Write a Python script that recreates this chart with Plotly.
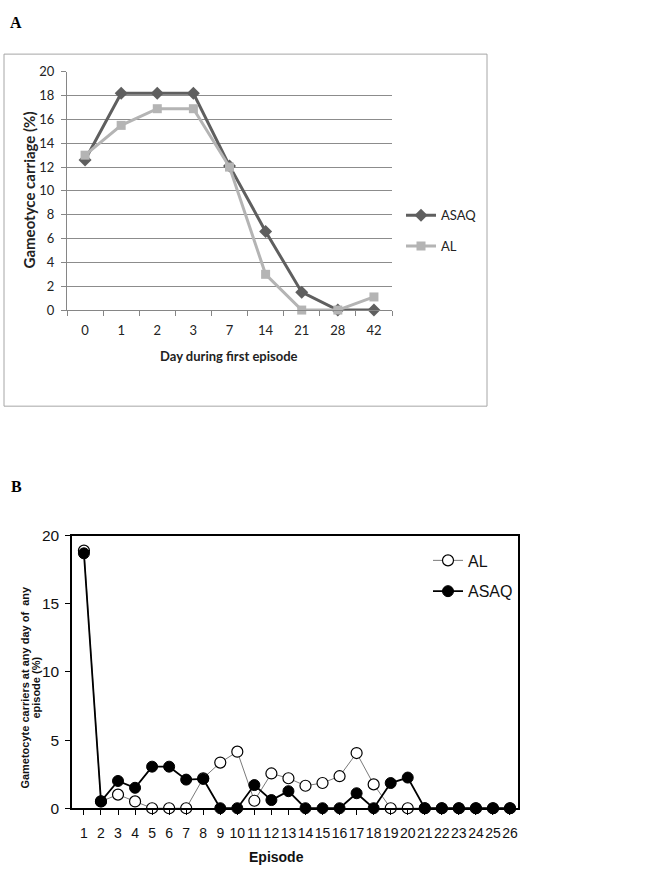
import plotly.graph_objects as go

# ---------- Panel A data ----------
days = ["0", "1", "2", "3", "7", "14", "21", "28", "42"]
asaq_a = [12.6, 18.2, 18.2, 18.2, 12.1, 6.6, 1.5, 0.0, 0.0]
al_a = [13.0, 15.5, 16.9, 16.9, 12.0, 3.0, 0.0, 0.0, 1.1]
y_ticks_a = [0, 2, 4, 6, 8, 10, 12, 14, 16, 18, 20]

# ---------- Panel B data ----------
episodes = list(range(1, 27))
al_b = [18.9, 0.5, 1.0, 0.5, 0.0, 0.0, 0.0, 2.2, 3.35, 4.15, 0.55, 2.55, 2.2, 1.65,
        1.85, 2.35, 4.05, 1.75, 0.0, 0.0, 0.0, 0.0, 0.0, 0.0, 0.0, 0.0]
asaq_b = [18.7, 0.5, 2.0, 1.5, 3.05, 3.05, 2.1, 2.15, 0.0, 0.0, 1.7, 0.6, 1.25, 0.0,
          0.0, 0.0, 1.1, 0.0, 1.85, 2.25, 0.0, 0.0, 0.0, 0.0, 0.0, 0.0]
y_ticks_b = [0, 5, 10, 15, 20]

W, H = 649, 879
def px(x):
    return x / W
def py(y):
    return 1 - y / H

fig = go.Figure()

# Panel A traces
fig.add_trace(go.Scatter(
    x=days, y=asaq_a, name="ASAQ", mode="lines+markers",
    line=dict(color="#5f5f5f", width=3),
    marker=dict(symbol="diamond", size=10, color="#5f5f5f"),
    xaxis="x", yaxis="y", legend="legend", legendgroup="a1", cliponaxis=False))
fig.add_trace(go.Scatter(
    x=days, y=al_a, name="AL", mode="lines+markers",
    line=dict(color="#b4b4b4", width=3),
    marker=dict(symbol="square", size=9, color="#b4b4b4"),
    xaxis="x", yaxis="y", legend="legend", legendgroup="a2", cliponaxis=False))

# Panel B traces
fig.add_trace(go.Scatter(
    x=episodes, y=al_b, name="AL", mode="lines+markers",
    line=dict(color="#7a7a7a", width=1),
    marker=dict(symbol="circle", size=11, color="white", line=dict(color="black", width=1.2)),
    xaxis="x2", yaxis="y2", legend="legend2", legendgroup="b1", cliponaxis=False))
fig.add_trace(go.Scatter(
    x=episodes, y=asaq_b, name="ASAQ", mode="lines+markers",
    line=dict(color="black", width=1.8),
    marker=dict(symbol="circle", size=11, color="black", line=dict(color="black", width=1)),
    xaxis="x2", yaxis="y2", legend="legend2", legendgroup="b2", cliponaxis=False))

fontA = "Lato, 'Open Sans', sans-serif"
fontB = "'Liberation Sans', Arial, sans-serif"

def ann(text, x, y, size, family, angle=0, color="#222"):
    return dict(text=text, x=px(x), y=py(y), xref="paper", yref="paper",
                xanchor="center", yanchor="middle", textangle=angle, showarrow=False,
                font=dict(family=family, size=size, color=color))

fig.update_layout(
    width=W, height=H,
    margin=dict(l=0, r=0, t=0, b=0),
    paper_bgcolor="white", plot_bgcolor="white",
    showlegend=True,
    xaxis=dict(
        domain=[px(67), px(392)], anchor="y",
        type="category", categoryorder="array", categoryarray=days,
        range=[-0.5, 8.5],
        showline=True, linecolor="#868686", linewidth=1,
        ticks="outside", tickson="boundaries", ticklen=5, tickcolor="#868686",
        showgrid=False, zeroline=False,
        tickfont=dict(family=fontA, size=13, color="#222"),
        ticklabelstandoff=8,
    ),
    yaxis=dict(
        domain=[py(307), py(64)], anchor="x",
        range=[0, 20], tickvals=y_ticks_a,
        showline=True, linecolor="#868686", linewidth=1,
        ticks="outside", ticklen=5, tickcolor="#868686",
        showgrid=True, gridcolor="#8c8c8c", gridwidth=1, zeroline=False,
        tickfont=dict(family=fontA, size=13, color="#222"),
        ticklabelstandoff=4,
    ),
    xaxis2=dict(
        domain=[px(72), px(518)], anchor="y2",
        range=[0.3, 26.47], tickvals=episodes, tickangle=0,
        showline=True, mirror=True, linecolor="black", linewidth=1.5,
        ticks="outside", ticklen=5, tickcolor="black", tickwidth=1,
        showgrid=False, zeroline=False,
        tickfont=dict(family=fontB, size=14, color="#111"),
        ticklabelstandoff=6,
    ),
    yaxis2=dict(
        domain=[py(815), py(537)], anchor="x2",
        range=[0, 20], tickvals=y_ticks_b,
        showline=True, mirror=True, linecolor="black", linewidth=1.5,
        ticks="outside", ticklen=5, tickcolor="black", tickwidth=1,
        showgrid=False, zeroline=False,
        tickfont=dict(family=fontB, size=15.5, color="#111"),
        ticklabelstandoff=3,
    ),
    legend=dict(
        x=px(401), y=py(195), xanchor="left", yanchor="top",
        font=dict(family=fontA, size=13, color="#222"),
        bgcolor="rgba(0,0,0,0)", traceorder="grouped", tracegroupgap=11,
        itemwidth=30,
    ),
    legend2=dict(
        x=px(428), y=py(545), xanchor="left", yanchor="top",
        font=dict(family=fontB, size=16, color="#111"),
        bgcolor="rgba(0,0,0,0)", traceorder="grouped", tracegroupgap=7,
        itemwidth=30,
    ),
    shapes=[dict(type="rect", xref="paper", yref="paper",
                 x0=px(4), x1=px(487), y0=py(405), y1=py(46),
                 line=dict(color="#a6a6a6", width=1), fillcolor="rgba(0,0,0,0)")],
    annotations=[
        ann("<b>A</b>", 16, 14, 16, "'Liberation Serif', serif", color="black"),
        ann("<b>B</b>", 16, 487, 16, "'Liberation Serif', serif", color="black"),
        ann("<b>Gameotyce carriage (%)</b>", 29, 185, 15, fontA, angle=-90),
        ann("<b>Day during first episode</b>", 229, 354, 13, fontA),
        ann("<b>Gametocyte carriers at any day of  any</b>", 25, 692, 11, fontB,
            angle=-90, color="#111"),
        ann("<b>episode (%)</b>", 36, 692, 11, fontB, angle=-90, color="#111"),
        ann("<b>Episode</b>", 276, 865, 14, fontB, color="#111"),
    ],
)

fig.write_html("out.html", config={"displayModeBar": False},
               post_script="document.body.style.margin='0';document.body.style.overflow='hidden';")
